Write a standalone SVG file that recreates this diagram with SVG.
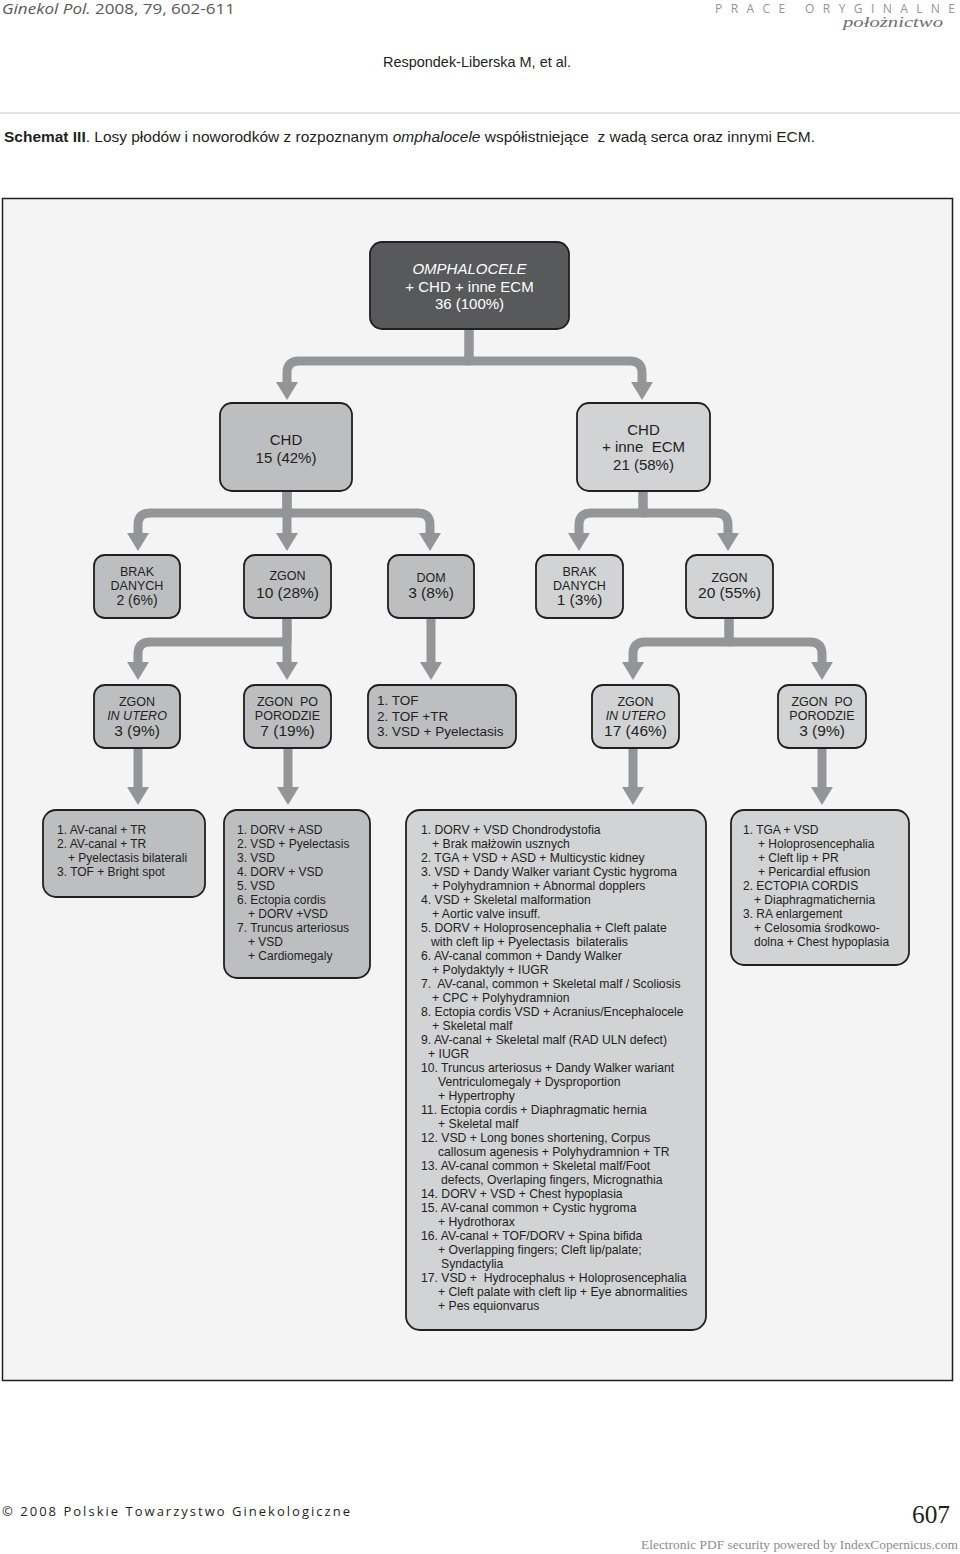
<svg xmlns="http://www.w3.org/2000/svg" width="960" height="1554" viewBox="0 0 960 1554">
<defs>
<style>
.t{font-family:"Liberation Sans",Arial,sans-serif;fill:#231f20}
.c{text-anchor:middle}
.w{fill:#ffffff}
.i{font-style:italic}
.s12{font-size:12px}
.s122{font-size:12.2px}
.s125{font-size:12.5px}
.s135{font-size:13.5px}
.s14{font-size:14px}
.s15{font-size:15px}
.s155{font-size:15.5px}
.bd{fill:#58595b;stroke:#231f20;stroke-width:1.8}
.bm{fill:#bcbec0;stroke:#231f20;stroke-width:1.8}
.bl{fill:#d1d3d4;stroke:#231f20;stroke-width:1.8}
.conn{fill:none;stroke:#939598;stroke-width:9;stroke-linejoin:round;marker-end:url(#ah)}
</style>
<marker id="ah" markerUnits="userSpaceOnUse" viewBox="0 0 18 22" refX="1" refY="11" markerWidth="18" markerHeight="22" orient="auto">
<path d="M0,0 L18,11 L0,22 Z" fill="#939598"/>
</marker>
</defs>

<rect width="960" height="1554" fill="#ffffff"/>

<!-- page header -->
<g id="header">
<text x="2" y="14" font-family="'Open Sans','Liberation Sans',sans-serif" font-size="15" fill="#58595b" textLength="233" lengthAdjust="spacingAndGlyphs"><tspan font-style="italic">Ginekol Pol.</tspan> 2008, 79, 602-611</text>
<text x="715" y="13" font-family="'Open Sans','Liberation Sans',sans-serif" font-size="12" fill="#939598" textLength="240" lengthAdjust="spacing">PRACE ORYGINALNE</text>
<text x="843" y="27" font-family="'Liberation Serif',serif" font-style="italic" font-size="15" fill="#6d6e71" textLength="100" lengthAdjust="spacingAndGlyphs">położnictwo</text>
<text x="477" y="67" text-anchor="middle" font-family="'Liberation Sans',Arial,sans-serif" font-size="15" fill="#231f20" textLength="188" lengthAdjust="spacingAndGlyphs">Respondek-Liberska M, et al.</text>
<line x1="0" y1="113" x2="960" y2="113" stroke="#c7c8ca" stroke-width="1"/>
<text x="4" y="142" xml:space="preserve" font-family="'Liberation Sans',Arial,sans-serif" font-size="15" fill="#231f20" textLength="811" lengthAdjust="spacingAndGlyphs"><tspan font-weight="bold">Schemat III</tspan>. Losy płodów i noworodków z rozpoznanym <tspan font-style="italic">omphalocele</tspan> współistniejące  z wadą serca oraz innymi ECM.</text>
</g>

<!-- frame -->
<rect x="2.5" y="198.5" width="950" height="1182" fill="#f4f4f4" stroke="#231f20" stroke-width="1.5"/>

<!-- connectors -->
<g id="connectors">
<path class="conn" d="M469,329 V361 H299 Q287,361 287,373 V383"/>
<path class="conn" d="M469,329 V361 H630 Q642,361 642,373 V383"/>

<path class="conn" d="M287,491 V513 H150 Q138,513 138,525 V534"/>
<path class="conn" d="M287,491 V534"/>
<path class="conn" d="M287,491 V513 H418 Q430,513 430,525 V534"/>

<path class="conn" d="M643,491 V513 H591 Q579,513 579,525 V534"/>
<path class="conn" d="M643,491 V513 H716 Q728,513 728,525 V534"/>

<path class="conn" d="M287,618 V642 H150 Q138,642 138,654 V663"/>
<path class="conn" d="M287,618 V663"/>
<path class="conn" d="M431,618 V663"/>

<path class="conn" d="M729,618 V642 H645 Q633,642 633,654 V663"/>
<path class="conn" d="M729,618 V642 H810 Q822,642 822,654 V663"/>

<path class="conn" d="M138,748 V788"/>
<path class="conn" d="M288,748 V788"/>
<path class="conn" d="M633,748 V788"/>
<path class="conn" d="M822,748 V788"/>
</g>

<!-- level 1 -->
<g id="n-omphalocele">
<rect class="bd" x="370" y="242" width="199" height="87" rx="12"/>
<text class="t c w s15 i" x="469.5" y="274">OMPHALOCELE</text>
<text class="t c w s15" x="469.5" y="292">+ CHD + inne ECM</text>
<text class="t c w s15" x="469.5" y="309">36 (100%)</text>
</g>

<!-- level 2 -->
<g id="n-chd">
<rect class="bm" x="220" y="403" width="132" height="88" rx="12"/>
<text class="t c s15" x="286" y="445">CHD</text>
<text class="t c s15" x="286" y="463">15 (42%)</text>
</g>
<g id="n-chd-ecm">
<rect class="bl" x="577" y="403" width="133" height="88" rx="12"/>
<text class="t c s15" x="643.5" y="435">CHD</text>
<text class="t c s15" x="643.5" y="452" xml:space="preserve">+ inne  ECM</text>
<text class="t c s15" x="643.5" y="470">21 (58%)</text>
</g>

<!-- level 3 -->
<g id="n-brak-l">
<rect class="bm" x="94" y="555" width="86" height="63" rx="11"/>
<text class="t c s125" x="137" y="576">BRAK</text>
<text class="t c s125" x="137" y="589.5">DANYCH</text>
<text class="t c s14" x="137" y="605">2 (6%)</text>
</g>
<g id="n-zgon-l">
<rect class="bm" x="244" y="555" width="87" height="63" rx="11"/>
<text class="t c s125" x="287.5" y="579.5">ZGON</text>
<text class="t c s155" x="287.5" y="597.5">10 (28%)</text>
</g>
<g id="n-dom">
<rect class="bm" x="388" y="555" width="86" height="63" rx="11"/>
<text class="t c s125" x="431" y="581.5">DOM</text>
<text class="t c s155" x="431" y="597.5">3 (8%)</text>
</g>
<g id="n-brak-r">
<rect class="bl" x="536" y="555" width="87" height="63" rx="11"/>
<text class="t c s125" x="579.5" y="575.5">BRAK</text>
<text class="t c s125" x="579.5" y="589.5">DANYCH</text>
<text class="t c s155" x="579.5" y="605">1 (3%)</text>
</g>
<g id="n-zgon-r">
<rect class="bl" x="686" y="555" width="87" height="63" rx="11"/>
<text class="t c s125" x="729.5" y="581.5">ZGON</text>
<text class="t c s155" x="729.5" y="597.5">20 (55%)</text>
</g>

<!-- level 4 -->
<g id="n-utero-l">
<rect class="bm" x="94" y="685" width="86" height="63" rx="11"/>
<text class="t c s125" x="137" y="705.5">ZGON</text>
<text class="t c s125 i" x="137" y="720">IN UTERO</text>
<text class="t c s155" x="137" y="736">3 (9%)</text>
</g>
<g id="n-poporodzie-l">
<rect class="bm" x="244" y="685" width="87" height="63" rx="11"/>
<text class="t c s125" x="287.5" y="705.5" xml:space="preserve">ZGON  PO</text>
<text class="t c s125" x="287.5" y="720">PORODZIE</text>
<text class="t c s155" x="287.5" y="736">7 (19%)</text>
</g>
<g id="n-dom-list">
<rect class="bm" x="368" y="685" width="148" height="63" rx="11"/>
<text class="t s135" x="377" y="705">1. TOF</text>
<text class="t s135" x="377" y="721">2. TOF +TR</text>
<text class="t s135" x="377" y="736">3. VSD + Pyelectasis</text>
</g>
<g id="n-utero-r">
<rect class="bl" x="592" y="685" width="87" height="63" rx="11"/>
<text class="t c s125" x="635.5" y="705.5">ZGON</text>
<text class="t c s125 i" x="635.5" y="720">IN UTERO</text>
<text class="t c s155" x="635.5" y="736">17 (46%)</text>
</g>
<g id="n-poporodzie-r">
<rect class="bl" x="778" y="685" width="88" height="63" rx="11"/>
<text class="t c s125" x="822" y="705.5" xml:space="preserve">ZGON  PO</text>
<text class="t c s125" x="822" y="720">PORODZIE</text>
<text class="t c s155" x="822" y="736">3 (9%)</text>
</g>

<!-- level 5 -->
<g id="n-list-utero-l">
<rect class="bm" x="43" y="810" width="162" height="87" rx="13"/>
<text class="t s12" x="57" y="833.5">1. AV-canal + TR</text>
<text class="t s12" x="57" y="847.5">2. AV-canal + TR</text>
<text class="t s12" x="68" y="861.5">+ Pyelectasis bilaterali</text>
<text class="t s12" x="57" y="875.5">3. TOF + Bright spot</text>
</g>
<g id="n-list-poporodzie-l">
<rect class="bm" x="224" y="810" width="146" height="168" rx="13"/>
<text class="t s12" x="237" y="833.5">1. DORV + ASD</text>
<text class="t s12" x="237" y="847.5">2. VSD + Pyelectasis</text>
<text class="t s12" x="237" y="861.5">3. VSD</text>
<text class="t s12" x="237" y="875.5">4. DORV + VSD</text>
<text class="t s12" x="237" y="889.5">5. VSD</text>
<text class="t s12" x="237" y="903.5">6. Ectopia cordis</text>
<text class="t s12" x="248" y="917.5">+ DORV +VSD</text>
<text class="t s12" x="237" y="931.5">7. Truncus arteriosus</text>
<text class="t s12" x="248" y="945.5">+ VSD</text>
<text class="t s12" x="248" y="959.5">+ Cardiomegaly</text>
</g>
<g id="n-list-utero-r">
<rect class="bl" x="406" y="810" width="300" height="520" rx="14"/>
<text class="t s122" x="421" y="833.5">1. DORV + VSD Chondrodystofia</text>
<text class="t s122" x="432" y="847.5">+ Brak małżowin usznych</text>
<text class="t s122" x="421" y="861.5">2. TGA + VSD + ASD + Multicystic kidney</text>
<text class="t s122" x="421" y="875.5">3. VSD + Dandy Walker variant Cystic hygroma</text>
<text class="t s122" x="432" y="889.5">+ Polyhydramnion + Abnormal dopplers</text>
<text class="t s122" x="421" y="903.5">4. VSD + Skeletal malformation</text>
<text class="t s122" x="432" y="917.5">+ Aortic valve insuff.</text>
<text class="t s122" x="421" y="931.5">5. DORV + Holoprosencephalia + Cleft palate</text>
<text class="t s122" x="431" y="945.5" xml:space="preserve">with cleft lip + Pyelectasis  bilateralis</text>
<text class="t s122" x="421" y="959.5">6. AV-canal common + Dandy Walker</text>
<text class="t s122" x="432" y="973.5">+ Polydaktyly + IUGR</text>
<text class="t s122" x="421" y="987.5" xml:space="preserve">7.  AV-canal, common + Skeletal malf / Scoliosis</text>
<text class="t s122" x="432" y="1001.5">+ CPC + Polyhydramnion</text>
<text class="t s122" x="421" y="1015.5">8. Ectopia cordis VSD + Acranius/Encephalocele</text>
<text class="t s122" x="432" y="1029.5">+ Skeletal malf</text>
<text class="t s122" x="421" y="1043.5">9. AV-canal + Skeletal malf (RAD ULN defect)</text>
<text class="t s122" x="428" y="1057.5">+ IUGR</text>
<text class="t s122" x="421" y="1071.5">10. Truncus arteriosus + Dandy Walker wariant</text>
<text class="t s122" x="438" y="1085.5">Ventriculomegaly + Dysproportion</text>
<text class="t s122" x="438" y="1099.5">+ Hypertrophy</text>
<text class="t s122" x="421" y="1113.5">11. Ectopia cordis + Diaphragmatic hernia</text>
<text class="t s122" x="438" y="1127.5">+ Skeletal malf</text>
<text class="t s122" x="421" y="1141.5">12. VSD + Long bones shortening, Corpus</text>
<text class="t s122" x="438" y="1155.5">callosum agenesis + Polyhydramnion + TR</text>
<text class="t s122" x="421" y="1169.5">13. AV-canal common + Skeletal malf/Foot</text>
<text class="t s122" x="441" y="1183.5">defects, Overlaping fingers, Micrognathia</text>
<text class="t s122" x="421" y="1197.5">14. DORV + VSD + Chest hypoplasia</text>
<text class="t s122" x="421" y="1211.5">15. AV-canal common + Cystic hygroma</text>
<text class="t s122" x="438" y="1225.5">+ Hydrothorax</text>
<text class="t s122" x="421" y="1239.5">16. AV-canal + TOF/DORV + Spina bifida</text>
<text class="t s122" x="438" y="1253.5">+ Overlapping fingers; Cleft lip/palate;</text>
<text class="t s122" x="441" y="1267.5">Syndactylia</text>
<text class="t s122" x="421" y="1281.5" xml:space="preserve">17. VSD +  Hydrocephalus + Holoprosencephalia</text>
<text class="t s122" x="438" y="1295.5">+ Cleft palate with cleft lip + Eye abnormalities</text>
<text class="t s122" x="438" y="1309.5">+ Pes equionvarus</text>
</g>
<g id="n-list-poporodzie-r">
<rect class="bl" x="731" y="810" width="178" height="155" rx="13"/>
<text class="t s12" x="743" y="833.5">1. TGA + VSD</text>
<text class="t s12" x="758" y="847.5">+ Holoprosencephalia</text>
<text class="t s12" x="758" y="861.5">+ Cleft lip + PR</text>
<text class="t s12" x="758" y="875.5">+ Pericardial effusion</text>
<text class="t s12" x="743" y="889.5">2. ECTOPIA CORDIS</text>
<text class="t s12" x="754" y="903.5">+ Diaphragmatichernia</text>
<text class="t s12" x="743" y="917.5">3. RA enlargement</text>
<text class="t s12" x="754" y="931.5">+ Celosomia środkowo-</text>
<text class="t s12" x="754" y="945.5">dolna + Chest hypoplasia</text>
</g>

<!-- footer -->
<g id="footer">
<text x="2" y="1516" font-family="'Open Sans','Liberation Sans',sans-serif" font-size="13" fill="#231f20" textLength="348" lengthAdjust="spacing">© 2008 Polskie Towarzystwo Ginekologiczne</text>
<text x="912" y="1523" font-family="'Liberation Serif',serif" font-size="26" fill="#231f20" textLength="38" lengthAdjust="spacingAndGlyphs">607</text>
<text x="641" y="1549" font-family="'Liberation Serif',serif" font-size="13" fill="#8a8c8e" textLength="317" lengthAdjust="spacingAndGlyphs">Electronic PDF security powered by IndexCopernicus.com</text>
</g>
</svg>
